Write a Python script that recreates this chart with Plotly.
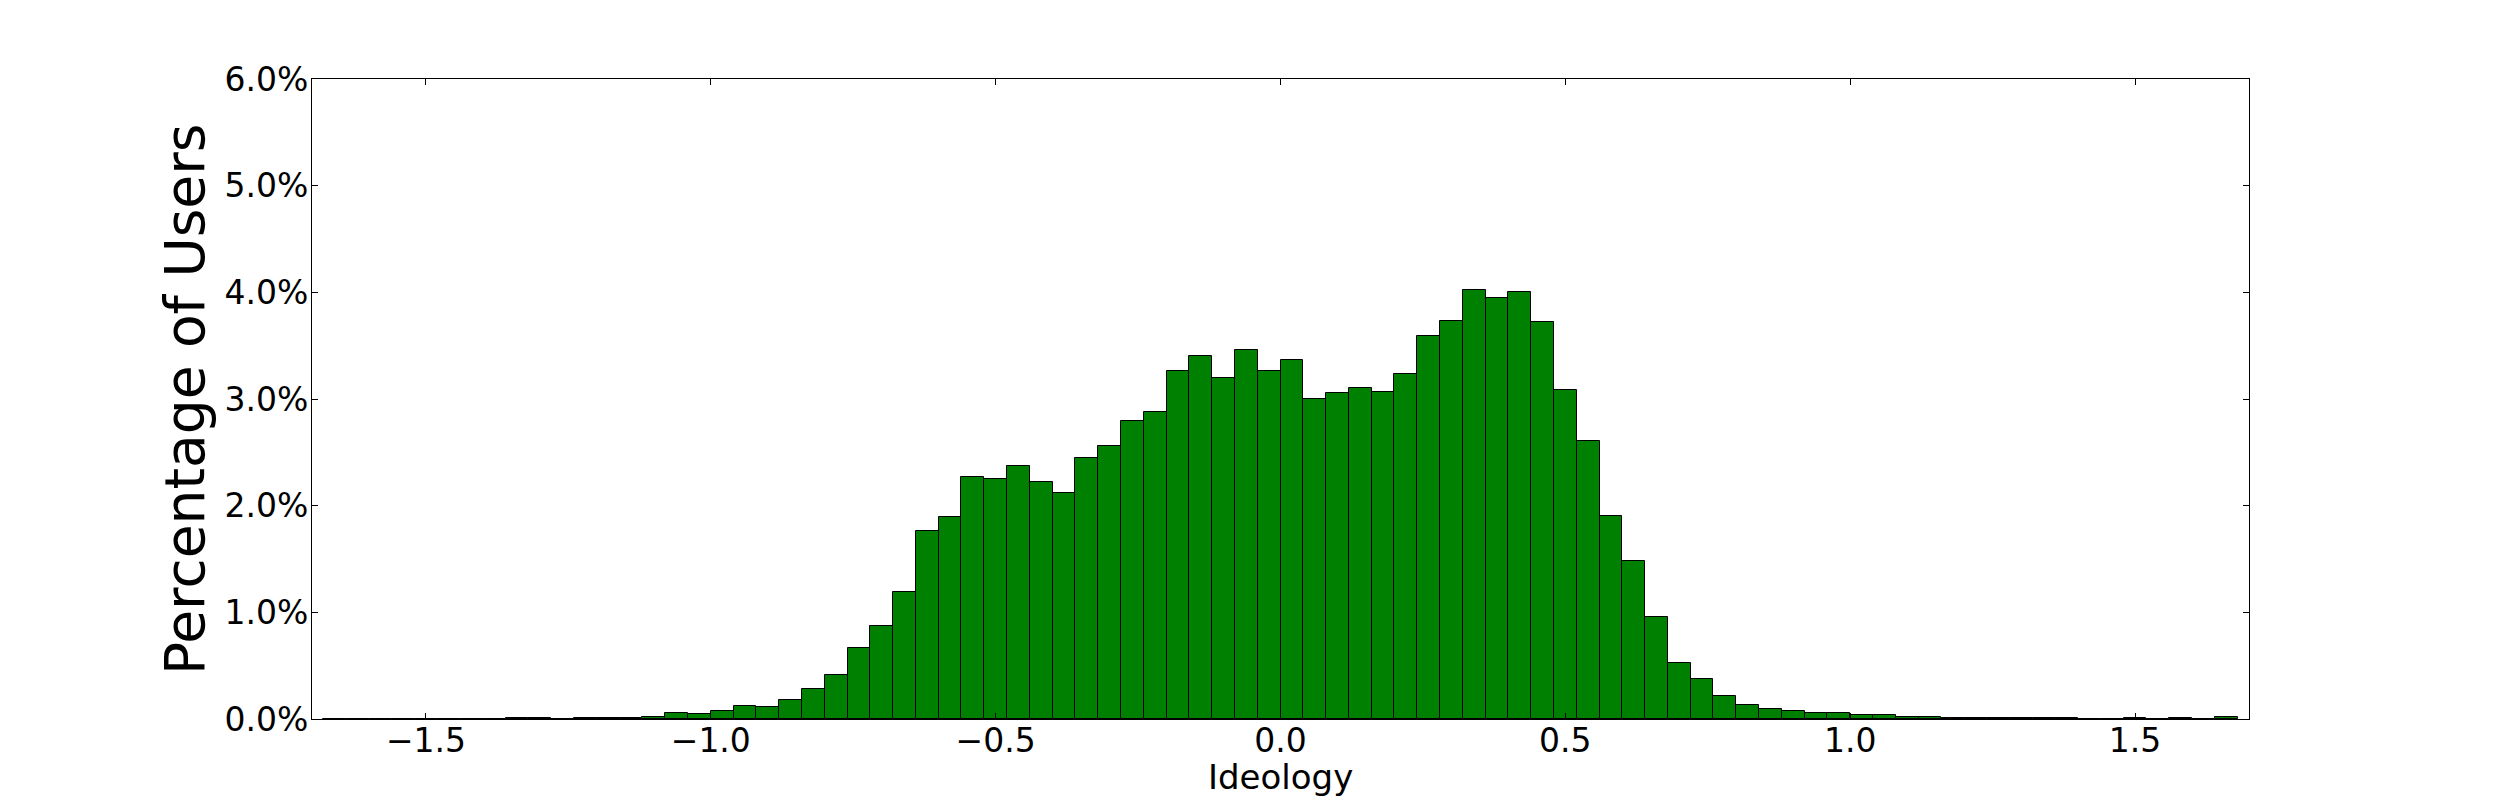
import plotly.graph_objects as go

# Histogram bins: left edges (Ideology), width 0.04
bin_width = 0.04
bin_left = [round(-1.68 + bin_width * i, 2) for i in range(84)]

# Percentage of users per bin (%)
pct_users = [
    0.0, 0.0, 0.003, 0.0, 0.003, 0.003, 0.004, 0.004, 0.005, 0.012,
    0.004, 0.008, 0.009, 0.010, 0.020, 0.055, 0.045, 0.074, 0.122, 0.110,
    0.177, 0.28, 0.41, 0.67, 0.87, 1.19, 1.76, 1.89, 2.27, 2.25,
    2.37, 2.22, 2.12, 2.45, 2.56, 2.79, 2.88, 3.26, 3.40, 3.20,
    3.46, 3.26, 3.37, 3.00, 3.06, 3.10, 3.07, 3.23, 3.59, 3.73,
    4.02, 3.95, 4.00, 3.72, 3.08, 2.61, 1.90, 1.48, 0.955, 0.525,
    0.375, 0.22, 0.135, 0.097, 0.078, 0.059, 0.059, 0.0375, 0.0375, 0.019,
    0.019, 0.010, 0.008, 0.008, 0.007, 0.007, 0.006, 0.0, 0.0, 0.012,
    0.0, 0.012, 0.0, 0.015,
]

x_ticks = [-1.5, -1.0, -0.5, 0.0, 0.5, 1.0, 1.5]
y_ticks = [0, 1, 2, 3, 4, 5, 6]
y_tick_labels = ["0.0%", "1.0%", "2.0%", "3.0%", "4.0%", "5.0%", "6.0%"]
x_title = "Ideology"
y_title = "Percentage of Users"

centers = [b + bin_width / 2 for b in bin_left]

fig = go.Figure()
fig.add_trace(go.Bar(
    x=centers, y=pct_users, width=bin_width,
    marker=dict(color="#008000", line=dict(color="black", width=1)),
    showlegend=False,
))

font_family = "DejaVu Sans"
fig.update_layout(
    width=2500, height=800,
    margin=dict(l=304, r=259, t=71, b=89, autoexpand=False),
    paper_bgcolor="white", plot_bgcolor="white",
    font=dict(family=font_family, color="black"),
    bargap=0,
)
fig.update_xaxes(
    range=[-1.7, 1.7], tickvals=x_ticks, tickformat=".1f",
    ticks="inside", ticklen=6, tickwidth=1, tickcolor="black",
    showline=True, linecolor="black", linewidth=1, mirror="ticks",
    showgrid=False, zeroline=False, automargin=False,
    ticklabelstandoff=-8,
    tickfont=dict(size=33, family=font_family),
)
fig.update_yaxes(
    range=[0, 6], tickvals=y_ticks, ticktext=y_tick_labels,
    ticks="inside", ticklen=6, tickwidth=1, tickcolor="black",
    showline=True, linecolor="black", linewidth=1, mirror="ticks",
    showgrid=False, zeroline=False, automargin=False,
    ticklabelstandoff=-4,
    tickfont=dict(size=33, family=font_family),
)
fig.add_annotation(
    text=x_title, xref="paper", yref="paper", x=0.5, y=-0.0905,
    xanchor="center", yanchor="middle", showarrow=False, borderpad=0,
    font=dict(size=34, family=font_family, color="black"),
)
fig.add_annotation(
    text=y_title, xref="paper", yref="paper", x=-0.0656, y=0.5,
    xanchor="center", yanchor="middle", textangle=-90, showarrow=False,
    font=dict(size=55, family=font_family, color="black"),
)

fig.write_html("out.html")
